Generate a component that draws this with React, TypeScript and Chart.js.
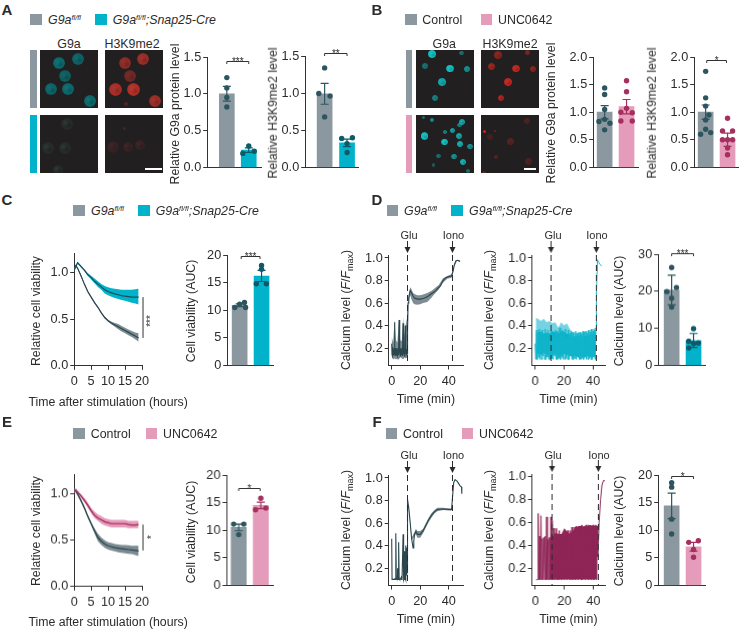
import React, { useEffect, useRef } from "react";
import { Chart, registerables } from "chart.js";

Chart.register(...registerables);

// ---------- colours ----------
const GRAY = "#8b989f";
const TEAL = "#00b3cb";
const PINK = "#e59bba";
const DARK = "#2d5560";
const DARK_TEAL = "#0f5a68";
const MAGENTA = "#a5305f";
const TRACE_MAGENTA = "#8f2657";
const INK = "#2b2b2b";
const FONT = '"Liberation Sans", Arial, sans-serif';

// ---------- bar + dot data ----------
const a1GrayVals = [1.22, 1.08, 0.95, 0.82];
const a1GrayJit = [0, 0, 0, 0];
const a1TealVals = [0.29, 0.19, 0.22];
const a1TealJit = [0, -0.27, 0.25];
const a1Means = [1.0, 0.235];
const a1Errs = [0.1, 0.03];

const a2GrayVals = [1.34, 0.995, 0.96, 0.68];
const a2GrayJit = [0, -0.26, 0.24, 0];
const a2TealVals = [0.39, 0.4, 0.32, 0.2];
const a2TealJit = [-0.24, 0.24, 0, 0];
const a2Means = [0.99, 0.33];
const a2Errs = [0.14, 0.05];

const b1CtrlVals = [1.44, 1.32, 1.05, 0.87, 0.83, 0.8, 0.68];
const b1CtrlJit = [0, 0, 0, 0, -0.26, 0.24, 0];
const b1UncVals = [1.57, 1.37, 1.07, 1.0, 0.99, 0.84, 0.84];
const b1UncJit = [0, 0, 0, -0.26, 0.26, -0.26, 0.26];
const b1Means = [1.0, 1.1];
const b1Errs = [0.12, 0.13];

const b2CtrlVals = [1.74, 1.26, 1.11, 0.95, 0.86, 0.6, 0.69, 0.63];
const b2CtrlJit = [0, 0, 0, 0.15, 0, -0.23, 0, 0.23];
const b2UncVals = [0.89, 0.66, 0.66, 0.5, 0.5, 0.5, 0.35, 0.23];
const b2UncJit = [0, -0.23, 0.23, 0, -0.23, 0.23, 0, 0];
const b2Means = [1.0, 0.5];
const b2Errs = [0.13, 0.12];

const c2GrayVals = [10.5, 11.1, 11.4, 10.5];
const c2GrayJit = [-0.22, 0, 0.22, 0.27];
const c2TealVals = [18.1, 17.4, 14.8, 14.8];
const c2TealJit = [0, 0, -0.24, 0.22];
const c2Means = [10.9, 16.2];
const c2Errs = [0.25, 1.0];

const d3GrayVals = [26.4, 19.9, 21, 18.1, 15.7];
const d3GrayJit = [0, -0.22, 0.22, 0, 0];
const d3TealVals = [9.9, 6.5, 6, 5.9, 4.7];
const d3TealJit = [0, -0.22, 0.22, 0, -0.22];
const d3Means = [20.3, 6.7];
const d3Errs = [4, 1.9];

const e2CtrlVals = [11.1, 11.1, 9.2];
const e2CtrlJit = [-0.23, 0.23, 0];
const e2UncVals = [15.8, 13.7, 14];
const e2UncJit = [0, -0.24, 0.23];
const e2Means = [10.5, 14.5];
const e2Errs = [0.6, 0.6];

const f3CtrlVals = [18.6, 17.8, 12, 9.3];
const f3CtrlJit = [0, 0, 0, 0];
const f3UncVals = [8.1, 7.8, 6.5, 5.1];
const f3UncJit = [0.22, -0.22, 0, 0];
const f3Means = [14.4, 7.0];
const f3Errs = [2.3, 0.8];

// ---------- viability curves ----------
const hours = [0, 0.5, 1, 2, 3, 4, 5, 6, 7, 8, 9, 10, 11, 12, 13, 14, 15, 16, 17, 18, 19];
const cTeal = [1.03, 1.07, 1.11, 1.07, 1.03, 0.98, 0.95, 0.91, 0.88, 0.85, 0.82, 0.8, 0.785, 0.775, 0.765, 0.755, 0.75, 0.745, 0.74, 0.74, 0.74];
const cTealHi = [1.04, 1.08, 1.12, 1.08, 1.04, 1.0, 0.97, 0.94, 0.91, 0.88, 0.86, 0.845, 0.835, 0.83, 0.825, 0.82, 0.82, 0.82, 0.82, 0.825, 0.83];
const cTealLo = [1.02, 1.06, 1.1, 1.06, 1.02, 0.97, 0.93, 0.89, 0.85, 0.82, 0.78, 0.76, 0.745, 0.73, 0.72, 0.71, 0.7, 0.69, 0.68, 0.67, 0.66];
const cGray = [1.05, 1.08, 1.05, 0.97, 0.88, 0.8, 0.74, 0.68, 0.63, 0.57, 0.52, 0.485, 0.46, 0.44, 0.42, 0.4, 0.38, 0.36, 0.34, 0.32, 0.3];
const cGrayHi = [1.06, 1.09, 1.06, 0.98, 0.89, 0.81, 0.75, 0.69, 0.64, 0.58, 0.53, 0.495, 0.475, 0.46, 0.45, 0.43, 0.41, 0.39, 0.375, 0.36, 0.35];
const cGrayLo = [1.04, 1.07, 1.04, 0.96, 0.87, 0.79, 0.73, 0.67, 0.62, 0.56, 0.51, 0.475, 0.445, 0.42, 0.395, 0.37, 0.35, 0.33, 0.31, 0.285, 0.26];

const ePink = [1.03, 1.04, 1.02, 0.98, 0.93, 0.88, 0.82, 0.77, 0.74, 0.72, 0.7, 0.69, 0.68, 0.68, 0.68, 0.68, 0.68, 0.67, 0.665, 0.665, 0.67];
const ePinkHi = [1.05, 1.06, 1.04, 1.0, 0.96, 0.91, 0.85, 0.81, 0.78, 0.76, 0.74, 0.73, 0.72, 0.72, 0.72, 0.72, 0.72, 0.71, 0.71, 0.71, 0.71];
const ePinkLo = [1.01, 1.02, 1.0, 0.96, 0.91, 0.85, 0.79, 0.74, 0.71, 0.68, 0.66, 0.65, 0.64, 0.64, 0.64, 0.64, 0.64, 0.63, 0.63, 0.63, 0.63];
const eGray = [1.05, 1.03, 1.0, 0.93, 0.85, 0.76, 0.68, 0.6, 0.53, 0.49, 0.46, 0.44, 0.43, 0.42, 0.415, 0.41, 0.405, 0.4, 0.395, 0.39, 0.385];
const eGrayHi = [1.07, 1.05, 1.02, 0.95, 0.87, 0.78, 0.7, 0.63, 0.57, 0.53, 0.5, 0.48, 0.47, 0.46, 0.455, 0.45, 0.45, 0.445, 0.44, 0.44, 0.44];
const eGrayLo = [1.03, 1.01, 0.98, 0.91, 0.83, 0.74, 0.66, 0.57, 0.49, 0.45, 0.42, 0.4, 0.39, 0.38, 0.37, 0.365, 0.36, 0.355, 0.35, 0.34, 0.33];

// ---------- calcium traces ----------
const d1Early = [0.24, 0.14, 0.21, 0.13, 0.19, 0.14, 0.2, 0.14, 0.43, 0.15, 0.2, 0.13, 0.19, 0.14, 0.2, 0.15, 0.18, 0.13, 0.2, 0.14, 0.21, 0.45, 0.16, 0.19, 0.13, 0.2, 0.15, 0.19, 0.14, 0.2, 0.13, 0.18, 0.42, 0.15, 0.21, 0.14, 0.2, 0.13, 0.4, 0.15, 0.2, 0.14, 0.19, 0.15, 0.2];
const d1LateT = [11.25, 11.5, 12, 13, 14, 15, 16, 18, 20, 22, 24, 26, 28, 30, 32, 34, 36, 38, 40, 42, 43, 44, 45, 46, 47, 48];
const d1Late = [0.35, 0.6, 0.65, 0.71, 0.69, 0.66, 0.645, 0.635, 0.635, 0.64, 0.65, 0.665, 0.685, 0.7, 0.725, 0.75, 0.8, 0.825, 0.835, 0.84, 0.88, 0.94, 0.975, 0.98, 0.975, 0.97];
const d1BandT = [0, 1, 2, 3, 4, 5, 6, 7, 8, 9, 10, 11, 11.5, 12, 13, 14, 15, 16, 18, 20, 22, 25, 28, 30, 33, 36, 39, 42, 44, 46, 48];
const d1BandHi = [0.3, 0.25, 0.45, 0.27, 0.25, 0.46, 0.27, 0.26, 0.47, 0.3, 0.42, 0.48, 0.65, 0.68, 0.74, 0.72, 0.69, 0.68, 0.67, 0.67, 0.675, 0.69, 0.71, 0.73, 0.76, 0.82, 0.84, 0.855, 0.95, 0.985, 0.975];
const d1BandLo = [0.12, 0.1, 0.11, 0.1, 0.11, 0.1, 0.12, 0.11, 0.1, 0.12, 0.11, 0.12, 0.58, 0.62, 0.67, 0.63, 0.6, 0.59, 0.585, 0.59, 0.6, 0.61, 0.65, 0.68, 0.72, 0.78, 0.815, 0.825, 0.93, 0.975, 0.965];

const d2Early = [
  0.24, 0.1, 0.36, 0.1, 0.34, 0.12, 0.37, 0.1, 0.33, 0.1,
  0.36, 0.13, 0.3, 0.1, 0.37, 0.1, 0.33, 0.12, 0.36, 0.1,
  0.28, 0.1, 0.37, 0.11, 0.35, 0.1, 0.3, 0.13, 0.36, 0.1,
  0.35, 0.1, 0.26, 0.11, 0.38, 0.1, 0.32, 0.12, 0.36, 0.1,
  0.34, 0.1, 0.37, 0.11, 0.29, 0.1, 0.36, 0.1, 0.33, 0.13,
  0.35, 0.1, 0.34, 0.1, 0.3, 0.11, 0.35, 0.1, 0.33, 0.12,
  0.34, 0.1, 0.34, 0.1, 0.32, 0.11, 0.35, 0.1, 0.34, 0.12,
  0.35, 0.1, 0.33, 0.1, 0.36, 0.11, 0.34, 0.1, 0.37, 0.1,
  0.35, 0.12, 0.36, 0.1, 0.38,
];
const d2LateT = [42.2, 42.5, 42.8, 43, 44, 45, 46];
const d2Late = [0.5, 0.7, 0.88, 0.985, 0.96, 0.94, 0.93];
const d2CoreT = [0.5, 2, 4, 6, 8, 10, 12, 14, 16, 18, 20, 22, 24, 26, 28, 30, 32, 34, 36, 38, 40, 42];
const d2CoreHi = [0.33, 0.34, 0.35, 0.33, 0.34, 0.33, 0.35, 0.34, 0.33, 0.35, 0.35, 0.33, 0.32, 0.3, 0.31, 0.31, 0.3, 0.31, 0.31, 0.32, 0.33, 0.35];
const d2CoreLo = [0.17, 0.15, 0.14, 0.16, 0.14, 0.15, 0.13, 0.15, 0.14, 0.13, 0.15, 0.14, 0.13, 0.12, 0.13, 0.12, 0.13, 0.12, 0.13, 0.12, 0.13, 0.12];
const d2LightHi = [0.47, 0.46, 0.44, 0.46, 0.43, 0.44, 0.42, 0.43, 0.38, 0.43, 0.4, 0.42, 0.37, 0.34, 0.33, 0.33, 0.33, 0.34, 0.35, 0.36, 0.37, 0.38];

const f1Early = [0.46, 0.1, 0.1, 0.1, 0.1, 0.1, 0.1, 0.1, 0.11, 0.1, 0.1, 0.1, 0.51, 0.12, 0.11, 0.1, 0.2, 0.1, 0.1, 0.1, 0.43, 0.11, 0.1, 0.1, 0.1, 0.1, 0.1, 0.12, 0.1, 0.1, 0.1, 0.1, 0.5, 0.11, 0.1, 0.12, 0.35, 0.11, 0.12, 0.1, 0.4, 0.14, 0.38, 0.16, 0.4];
const f1LateT = [11.2, 12, 13, 14, 15, 15.5, 16, 17, 18, 20, 22, 24, 26, 28, 30, 32, 36, 40, 42, 42.5, 43.5, 44.5, 46, 47, 48, 49, 49.2];
const f1Late = [0.81, 0.73, 0.6, 0.46, 0.38, 0.44, 0.5, 0.525, 0.5, 0.5, 0.53, 0.58, 0.63, 0.67, 0.7, 0.72, 0.725, 0.72, 0.72, 0.8, 0.96, 0.985, 0.97, 0.95, 0.93, 0.92, 0.86];
const f1BandT = [12, 14, 16, 17, 18, 20, 22, 24, 26, 28, 30, 32, 36, 42];
const f1BandHi = [0.74, 0.47, 0.52, 0.55, 0.53, 0.53, 0.55, 0.6, 0.65, 0.69, 0.715, 0.735, 0.735, 0.73];
const f1BandLo = [0.72, 0.45, 0.48, 0.5, 0.47, 0.47, 0.51, 0.56, 0.61, 0.65, 0.685, 0.705, 0.715, 0.71];

const f2Early = [
  0.1, 0.1, 0.1, 0.68, 0.1, 0.48, 0.1, 0.66, 0.1, 0.46,
  0.1, 0.47, 0.1, 0.48, 0.1, 0.65, 0.1, 0.45, 0.1, 0.47,
  0.1, 0.65, 0.1, 0.62, 0.11, 0.55, 0.1, 0.46, 0.11, 0.55,
  0.1, 0.5, 0.1, 0.53, 0.11, 0.45, 0.1, 0.5, 0.12, 0.49,
  0.1, 0.48, 0.11, 0.51, 0.1, 0.53, 0.11, 0.45, 0.1, 0.53,
  0.11, 0.56, 0.1, 0.47, 0.12, 0.56, 0.1, 0.57, 0.11, 0.5,
  0.1, 0.57, 0.11, 0.55, 0.1, 0.58, 0.1, 0.46, 0.12, 0.57,
  0.1, 0.58, 0.11, 0.5, 0.1, 0.58, 0.11, 0.57, 0.1, 0.55,
  0.12, 0.58, 0.1, 0.5, 0.11, 0.58, 0.1, 0.57,
];
const f2LateT = [43, 43.6, 44, 45, 46, 47, 48];
const f2Late = [0.3, 0.45, 0.6, 0.8, 0.93, 0.97, 0.965];
const f2CoreT = [9.5, 10, 11, 12, 14, 16, 18, 20, 22, 24, 26, 28, 30, 32, 34, 36, 38, 40, 42, 42.8];
const f2CoreHi = [0.45, 0.46, 0.5, 0.48, 0.51, 0.5, 0.5, 0.55, 0.52, 0.5, 0.53, 0.56, 0.57, 0.57, 0.565, 0.57, 0.58, 0.57, 0.57, 0.58];
const f2CoreLo = [0.11, 0.11, 0.1, 0.1, 0.1, 0.1, 0.1, 0.1, 0.1, 0.1, 0.1, 0.1, 0.1, 0.1, 0.1, 0.1, 0.1, 0.1, 0.1, 0.1];

// ---------- ticks ----------
const ticks15 = [0, 0.5, 1.0, 1.5];
const ticks20 = [0, 0.5, 1.0, 1.5, 2.0];
const ticksAuc20 = [0, 5, 10, 15, 20];
const ticksAuc30 = [0, 10, 20, 30];
const ticksViab = [0, 0.5, 1.0];
const ticksHours = [0, 5, 10, 15, 20];
const ticksCa = [0.2, 0.4, 0.6, 0.8, 1.0];
const ticksMin = [0, 20, 40];

// ---------- helpers ----------
const pts = (xs: number[], ys: number[]) => ys.map((y, i) => ({ x: xs[i], y }));
const jit = (slot: number, offs: number[], ys: number[]) => ys.map((y, i) => ({ x: slot + offs[i], y }));
const sampled = (step: number, ys: number[], start = 0) => ys.map((y, i) => ({ x: start + i * step, y }));

type Err = { slot: number; mean: number; err: number; color: string };
type Marks = {
  errs?: Err[];
  bracket?: { from: number; to: number; y: number; stars: string };
  side?: { x: number; y0: number; y1: number };
  events?: number[];
};

function marksPlugin(m: Marks) {
  return {
    id: "marks",
    afterDatasetsDraw(chart: any) {
      const { ctx, scales, chartArea } = chart;
      const x = scales.x;
      const y = scales.y;
      ctx.save();
      (m.errs || []).forEach((e) => {
        const cx = x.getPixelForValue(e.slot);
        const hi = y.getPixelForValue(e.mean + e.err);
        const lo = y.getPixelForValue(e.mean - e.err);
        ctx.strokeStyle = e.color;
        ctx.lineWidth = 1.2;
        ctx.beginPath();
        ctx.moveTo(cx, hi);
        ctx.lineTo(cx, lo);
        ctx.moveTo(cx - 4, hi);
        ctx.lineTo(cx + 4, hi);
        ctx.moveTo(cx - 4, lo);
        ctx.lineTo(cx + 4, lo);
        ctx.stroke();
      });
      if (m.bracket) {
        const b = m.bracket;
        const x0 = x.getPixelForValue(b.from);
        const x1 = x.getPixelForValue(b.to);
        const py = Math.round(y.getPixelForValue(b.y)) + 0.5;
        ctx.strokeStyle = "#333";
        ctx.lineWidth = 1;
        ctx.beginPath();
        ctx.moveTo(x0, py + 2.5);
        ctx.lineTo(x0, py);
        ctx.lineTo(x1, py);
        ctx.lineTo(x1, py + 2.5);
        ctx.stroke();
        ctx.fillStyle = INK;
        ctx.font = `10px ${FONT}`;
        ctx.textAlign = "center";
        ctx.textBaseline = "alphabetic";
        ctx.fillText(b.stars, (x0 + x1) / 2, py + 3);
      }
      if (m.side) {
        const px = x.getPixelForValue(m.side.x);
        ctx.strokeStyle = "#333";
        ctx.lineWidth = 1;
        ctx.beginPath();
        ctx.moveTo(px, y.getPixelForValue(m.side.y0));
        ctx.lineTo(px, y.getPixelForValue(m.side.y1));
        ctx.stroke();
      }
      (m.events || []).forEach((t) => {
        const px = Math.round(x.getPixelForValue(t)) + 0.5;
        ctx.strokeStyle = "#2a2a2a";
        ctx.lineWidth = 1;
        ctx.setLineDash([6, 4]);
        ctx.beginPath();
        ctx.moveTo(px, chartArea.top);
        ctx.lineTo(px, chartArea.bottom);
        ctx.stroke();
        ctx.setLineDash([]);
        ctx.beginPath();
        ctx.moveTo(px, chartArea.top - 14);
        ctx.lineTo(px, chartArea.top - 4);
        ctx.stroke();
        ctx.fillStyle = "#2a2a2a";
        ctx.beginPath();
        ctx.moveTo(px - 3, chartArea.top - 8);
        ctx.lineTo(px + 3, chartArea.top - 8);
        ctx.lineTo(px, chartArea.top - 2);
        ctx.closePath();
        ctx.fill();
      });
      ctx.restore();
    },
  };
}

type Box = { l: number; r: number; t: number; b: number };
type Label = { x: number; y: number; text: string; rotate: number };
type Spec = { left: number; top: number; w: number; h: number; config: any; labels: Label[] };

const TITLE_LH = 12 * 1.2;
const TOP_PAD = 18;
const RIGHT_PAD = 14;
const BOTTOM_PAD = 8;

function makeSpec(
  box: Box,
  titleX: number,
  titleY: number | null,
  yTicks: number[],
  yDec: number,
  yMin: number,
  yMax: number,
  xMin: number,
  xMax: number,
  xTicks: number[] | null,
  yTitle: string,
  xTitle: string,
  type: string,
  datasets: any[],
  marks: Marks
): Spec {
  const yW = box.l - titleX + TITLE_LH / 2;
  const xH = titleY == null ? 1 : titleY - box.b + TITLE_LH / 2;
  const left = box.l - yW;
  const top = box.t - TOP_PAD;
  const w = box.r - box.l + yW + RIGHT_PAD;
  const h = box.b - box.t + TOP_PAD + xH + BOTTOM_PAD;
  const tickFont = { family: FONT, size: 12.7 };
  const labels: Label[] = [];
  if (yTitle) labels.push({ x: titleX, y: (box.t + box.b) / 2 + 1, text: yTitle, rotate: -90 });
  if (xTitle && titleY != null) labels.push({ x: (box.l + box.r) / 2, y: titleY, text: xTitle, rotate: 0 });
  return {
    left,
    top,
    w,
    h,
    labels,
    config: {
      type,
      data: { datasets },
      plugins: [marksPlugin(marks)],
      options: {
        animation: false,
        responsive: false,
        maintainAspectRatio: false,
        layout: { padding: { top: TOP_PAD, right: RIGHT_PAD, bottom: BOTTOM_PAD, left: 0 } },
        plugins: { legend: { display: false }, tooltip: { enabled: false }, title: { display: false } },
        scales: {
          x: {
            type: "linear",
            min: xMin,
            max: xMax,
            afterFit: (s: any) => {
              s.height = xH;
            },
            afterBuildTicks: (s: any) => {
              s.ticks = (xTicks || []).map((value) => ({ value }));
            },
            grid: { display: !!xTicks, drawOnChartArea: false, drawTicks: true, tickLength: 4, color: "#333" },
            border: { display: true, color: "#333", width: 1 },
            ticks: {
              display: !!xTicks,
              font: tickFont,
              color: INK,
              padding: 4,
              autoSkip: false,
              maxRotation: 0,
              callback: (v: number) => String(v),
            },
          },
          y: {
            type: "linear",
            min: yMin,
            max: yMax,
            afterFit: (s: any) => {
              s.width = yW;
            },
            afterBuildTicks: (s: any) => {
              s.ticks = yTicks.map((value) => ({ value }));
            },
            grid: { drawOnChartArea: false, drawTicks: true, tickLength: 4, color: "#333" },
            border: { display: true, color: "#333", width: 1 },
            ticks: {
              font: tickFont,
              color: INK,
              padding: 2,
              autoSkip: false,
              callback: (v: number) => v.toFixed(yDec),
            },
          },
        },
      },
    },
  };
}

function barSpec(
  box: Box,
  c0: number,
  c1: number,
  titleX: number,
  yTicks: number[],
  yDec: number,
  yTitle: string,
  means: number[],
  errs: number[],
  v0: number[],
  j0: number[],
  v1: number[],
  j1: number[],
  colors: string[],
  dotColors: string[],
  bracket: Marks["bracket"]
): Spec {
  const sep = c1 - c0;
  const dot = (data: any[], c: string) => ({
    type: "scatter",
    data,
    backgroundColor: c,
    borderColor: c,
    pointRadius: 2.7,
    pointBorderWidth: 0,
    showLine: false,
  });
  return makeSpec(
    box,
    titleX,
    null,
    yTicks,
    yDec,
    0,
    yTicks[yTicks.length - 1],
    (box.l - c0) / sep,
    (box.r - c0) / sep,
    null,
    yTitle,
    "",
    "bar",
    [
      dot(jit(0, j0, v0), dotColors[0]),
      dot(jit(1, j1, v1), dotColors[1]),
      {
        type: "bar",
        data: pts([0, 1], means),
        backgroundColor: colors,
        barThickness: 15,
      },
    ],
    {
      errs: [
        { slot: 0, mean: means[0], err: errs[0], color: dotColors[0] },
        { slot: 1, mean: means[1], err: errs[1], color: dotColors[1] },
      ],
      bracket,
    }
  );
}

function viabSpec(box: Box, sets: any[], side: Marks["side"]): Spec {
  return makeSpec(box, 36, box.b + 36, ticksViab, 1, 0, 1.215, 0, 20, ticksHours, "Relative cell viability", "Time after stimulation (hours)", "line", sets, { side });
}

const lineDs = (data: any[], color: string, width = 1.2, extra: any = {}) => ({
  data,
  borderColor: color,
  borderWidth: width,
  pointRadius: 0,
  tension: 0,
  fill: false,
  ...extra,
});
const bandPair = (xs: number[], hi: number[], lo: number[], color: string) => [
  { data: pts(xs, hi), borderWidth: 0, borderColor: color, backgroundColor: color, pointRadius: 0, fill: "+1" },
  { data: pts(xs, lo), borderWidth: 0, borderColor: color, pointRadius: 0, fill: false },
];

function caSpec(box: Box, x0px: number, x40px: number, titleY: number, sets: any[], events: number[]): Spec {
  const perMin = (x40px - x0px) / 40;
  const y02 = box.b - 17.4;
  const perUnit = (y02 - (box.t + 3)) / 0.8;
  const yMin = 0.2 - (box.b - y02) / perUnit;
  const yMax = 1.0 + 3 / perUnit;
  return makeSpec(box, box.l - 42.5, titleY, ticksCa, 1, yMin, yMax, (box.l - x0px) / perMin, (box.r - x0px) / perMin, ticksMin, "", "Time (min)", "line", sets, { events });
}

const specs: Spec[] = [
  // A
  barSpec({ l: 207, r: 261, t: 57, b: 168 }, 226.7, 248.7, 175, ticks15, 1, "Relative G9a protein level", a1Means, a1Errs, a1GrayVals, a1GrayJit, a1TealVals, a1TealJit, [GRAY, TEAL], [DARK, DARK_TEAL], { from: 0, to: 1, y: 1.44, stars: "***" }),
  barSpec({ l: 305, r: 358, t: 56, b: 168 }, 324.5, 347, 273, ticks15, 1, "Relative H3K9me2 level", a2Means, a2Errs, a2GrayVals, a2GrayJit, a2TealVals, a2TealJit, [GRAY, TEAL], [DARK, DARK_TEAL], { from: 0, to: 1, y: 1.535, stars: "**" }),
  // B
  barSpec({ l: 593, r: 638, t: 56.7, b: 167.7 }, 604.5, 626.5, 551, ticks20, 1, "Relative G9a protein level", b1Means, b1Errs, b1CtrlVals, b1CtrlJit, b1UncVals, b1UncJit, [GRAY, PINK], [DARK, MAGENTA], undefined),
  barSpec({ l: 694, r: 738, t: 56.7, b: 167.7 }, 705.5, 727.5, 652, ticks20, 1, "Relative H3K9me2 level", b2Means, b2Errs, b2CtrlVals, b2CtrlJit, b2UncVals, b2UncJit, [GRAY, PINK], [DARK, MAGENTA], { from: 0.05, to: 0.95, y: 1.95, stars: "*" }),
  // C
  viabSpec(
    { l: 74, r: 142.3, t: 253, b: 366 },
    [
      lineDs(pts(hours, cTeal), "#1d4c58"),
      lineDs(pts(hours, cGray), "#2a474e"),
      ...bandPair(hours, cTealHi, cTealLo, TEAL),
      ...bandPair(hours, cGrayHi, cGrayLo, "#7d8b92"),
    ],
    { x: 20.3, y0: 0.74, y1: 0.3 }
  ),
  barSpec({ l: 227, r: 273, t: 254.7, b: 366 }, 239.5, 261.5, 191, ticksAuc20, 0, "Cell viability (AUC)", c2Means, c2Errs, c2GrayVals, c2GrayJit, c2TealVals, c2TealJit, [GRAY, TEAL], [DARK, DARK_TEAL], { from: 0.07, to: 0.93, y: 19.9, stars: "***" }),
  // D
  caSpec(
    { l: 388.7, r: 463, t: 255, b: 365.7 },
    391.7,
    448.7,
    399,
    [
      lineDs([...sampled(0.25, d1Early), ...pts(d1LateT, d1Late)], "#2a474e", 1.1),
      ...bandPair(d1BandT, d1BandHi, d1BandLo, "#7f8c93"),
    ],
    [11, 42]
  ),
  caSpec(
    { l: 531.7, r: 605, t: 255, b: 365.7 },
    534.7,
    593,
    399,
    [
      lineDs([...sampled(0.5, d2Early), ...pts(d2LateT, d2Late)], "#12b5cb", 1),
      ...bandPair(d2CoreT, d2CoreHi, d2CoreLo, TEAL),
      ...bandPair(d2CoreT, d2LightHi, d2CoreHi, "#74d3e2"),
    ],
    [11, 42]
  ),
  barSpec({ l: 658, r: 705, t: 254.3, b: 366 }, 671.5, 693.5, 619, ticksAuc30, 0, "Calcium level (AUC)", d3Means, d3Errs, d3GrayVals, d3GrayJit, d3TealVals, d3TealJit, [GRAY, TEAL], [DARK, DARK_TEAL], { from: 0, to: 1, y: 30.4, stars: "***" }),
  // E
  viabSpec(
    { l: 74, r: 142.3, t: 473.5, b: 586.3 },
    [
      lineDs(pts(hours, ePink), "#a0285a"),
      lineDs(pts(hours, eGray), "#2a474e"),
      ...bandPair(hours, ePinkHi, ePinkLo, PINK),
      ...bandPair(hours, eGrayHi, eGrayLo, "#7d8b92"),
    ],
    { x: 20.3, y0: 0.67, y1: 0.39 }
  ),
  barSpec({ l: 226, r: 272.7, t: 475, b: 586.3 }, 238.2, 260.5, 191, ticksAuc20, 0, "Cell viability (AUC)", e2Means, e2Errs, e2CtrlVals, e2CtrlJit, e2UncVals, e2UncJit, [GRAY, PINK], [DARK, MAGENTA], { from: 0, to: 0.97, y: 17.6, stars: "*" }),
  // F
  caSpec(
    { l: 388.7, r: 463, t: 475, b: 585.7 },
    391.7,
    448.7,
    619,
    [
      lineDs([...sampled(0.25, f1Early), ...pts(f1LateT, f1Late)], "#2a474e", 1.1),
      ...bandPair(f1BandT, f1BandHi, f1BandLo, "#7f8c93"),
    ],
    [11, 42]
  ),
  caSpec(
    { l: 531.7, r: 605, t: 473.5, b: 585.7 },
    535,
    593.3,
    619,
    [
      lineDs([...sampled(0.485, f2Early, 0.5), ...pts(f2LateT, f2Late)], TRACE_MAGENTA, 1),
      ...bandPair(f2CoreT, f2CoreHi, f2CoreLo, TRACE_MAGENTA),
    ],
    [11, 43]
  ),
  barSpec({ l: 658, r: 705, t: 474.7, b: 586 }, 671.5, 693.5, 619, ticksAuc20, 0, "Calcium level (AUC)", f3Means, f3Errs, f3CtrlVals, f3CtrlJit, f3UncVals, f3UncJit, [GRAY, PINK], [DARK, MAGENTA], { from: 0, to: 1, y: 19.9, stars: "*" }),
];

// ---------- DOM text and micrographs ----------
const Txt = ({ x, y, children, size = 12.3, rotate = 0, style = {} }: any) => (
  <div
    style={{
      position: "absolute",
      left: x,
      top: y,
      transform: `translate(-50%,-50%) rotate(${rotate}deg)`,
      whiteSpace: "nowrap",
      fontFamily: FONT,
      fontSize: size,
      color: INK,
      lineHeight: 1,
      ...style,
    }}
  >
    {children}
  </div>
);
const Left = ({ x, y, children }: any) => (
  <div style={{ position: "absolute", left: x, top: y, transform: "translateY(-50%)", whiteSpace: "nowrap", fontFamily: FONT, fontSize: 12.4, color: INK, lineHeight: 1 }}>
    {children}
  </div>
);
const Swatch = ({ x, y, c }: any) => <div style={{ position: "absolute", left: x, top: y, width: 11.5, height: 11, background: c }} />;
const Fl = () => (
  <i>
    G9a<sup style={{ fontSize: 7.5, lineHeight: 0, verticalAlign: 4 }}>fl/fl</sup>
  </i>
);
const FlCre = () => (
  <i>
    G9a<sup style={{ fontSize: 7.5, lineHeight: 0, verticalAlign: 4 }}>fl/fl</sup>;Snap25-Cre
  </i>
);
const FMax = () => (
  <>
    Calcium level (<i>F</i>/<i>F</i>
    <sub style={{ fontSize: 9, lineHeight: 0, verticalAlign: -3 }}>max</sub>)
  </>
);

type Cell = [number, number, number, number?];
const aTopCells: Cell[] = [[19, 12.7, 6], [37.7, 9.3, 6, 0.9], [25, 26, 6, 0.85], [11, 39, 6, 0.95], [27.7, 39, 6], [50, 50.7, 6]];
const aTopRed: Cell[] = [[19.7, 12.7, 6, 0.75], [38, 9.3, 6, 0.85], [25.3, 26, 6, 0.55], [10.7, 39, 6.5, 0.95], [28, 39, 6.5], [50.3, 50.7, 6, 0.85], [21, 54, 2, 0.35]];
const aBotCells: Cell[] = [[26.7, 9, 6], [8.3, 33, 6], [25, 33, 6], [18, 55, 5]];
const aBotRed: Cell[] = [[19.7, 14, 1.5], [8, 32.3, 6, 0.6], [23, 32.3, 5, 0.6], [34.7, 30.7, 5, 0.6]];
const bTopCells: Cell[] = [[16.7, 4.3, 4, 1], [46, 2.7, 2.2, 0.5], [9.3, 16, 3, 0.5], [34.3, 18.7, 3.8, 1], [51, 19, 3, 0.7], [26.3, 32, 3.8, 0.85], [19.7, 48.3, 3, 0.6]];
const bTopRed: Cell[] = [[16.7, 5, 3.8, 0.6], [46.7, 2.7, 2.5, 0.55], [10, 16.7, 3.5, 0.7], [34.7, 18.7, 3.8, 0.95], [51.7, 19, 3, 0.6], [27, 32, 4, 0.95], [19.7, 48.3, 3.2, 0.8]];
const bBotCells: Cell[] = [[8.7, 21.3, 3.8, 1], [7.7, 3.3, 1.5, 0.5], [16, 5, 2, 0.7], [46, 7.3, 3, 0.85], [43.7, 10.7, 2.2, 0.6], [36.7, 16.3, 2.6, 0.8], [29.3, 17.3, 1.8, 0.6], [43.7, 21.7, 3, 0.85], [29, 27.3, 3.2, 1], [44.3, 29.7, 3, 0.9], [54.3, 32.3, 2.6, 0.7], [22.7, 41.7, 2.2, 0.5], [38.3, 42.3, 2.6, 0.7], [47, 47.3, 3, 0.9], [17.7, 50.7, 1.8, 0.4], [52.7, 56.3, 2, 0.5]];
const bBotRed: Cell[] = [[3.7, 17.3, 1.5, 1], [14, 16, 1, 0.5], [9, 22, 3, 0.2], [29.3, 27.3, 3.5, 0.3], [47.7, 47.3, 3.5, 0.25], [46, 6, 3, 0.25], [15, 42, 2, 0.3], [3, 58, 2, 0.4]];

const Micro = ({ x, y, cells, color, scaleBar }: any) => (
  <div style={{ position: "absolute", left: x, top: y, width: 58, height: 58, background: "#221f20", overflow: "hidden" }}>
    {cells.map(([cx, cy, r, a]: Cell, i: number) => (
      <div
        key={i}
        style={{
          position: "absolute",
          left: cx - r,
          top: cy - r,
          width: r * 2,
          height: r * 2,
          borderRadius: "50%",
          opacity: a ?? 1,
          background: `radial-gradient(circle at 35% 40%, rgba(255,255,255,0.06) 0, transparent 35%), radial-gradient(circle at 65% 62%, rgba(0,0,0,0.18) 0, transparent 32%), radial-gradient(circle, ${color} 0%, ${color} 62%, transparent 92%)`,
        }}
      />
    ))}
    {scaleBar ? <div style={{ position: "absolute", left: scaleBar[0], top: 53, width: scaleBar[1], height: 2, background: "#fff" }} /> : null}
  </div>
);
const Strip = ({ x, y, c }: any) => <div style={{ position: "absolute", left: x, top: y, width: 6.7, height: 58, background: c }} />;

export default function App() {
  const refs = useRef<(HTMLCanvasElement | null)[]>([]);
  useEffect(() => {
    const charts = specs.map((s, i) => new Chart(refs.current[i] as HTMLCanvasElement, s.config));
    return () => charts.forEach((c) => c.destroy());
  }, []);
  const bold = { fontWeight: 700 };
  return (
    <div style={{ position: "absolute", left: 0, top: 0, width: 740, height: 630, background: "#fff", overflow: "hidden" }}>
      {/* micrographs */}
      <Strip x={30} y={50} c={GRAY} />
      <Strip x={30} y={114.5} c={TEAL} />
      <Micro x={40} y={50} cells={aTopCells} color="#0a686b" />
      <Micro x={105} y={50} cells={aTopRed} color="#ad2f28" />
      <Micro x={40} y={114.5} cells={aBotCells} color="#252b2b" />
      <Micro x={105} y={114.5} cells={aBotRed} color="#452324" scaleBar={[40, 16.5]} />
      <Strip x={405.7} y={50} c={GRAY} />
      <Strip x={405.7} y={114.5} c={PINK} />
      <Micro x={415.7} y={50} cells={bTopCells} color="#10b9bb" />
      <Micro x={481.2} y={50} cells={bTopRed} color="#c4261d" />
      <Micro x={415.7} y={114.5} cells={bBotCells} color="#10b9bb" />
      <Micro x={481.2} y={114.5} cells={bBotRed} color="#c8281f" scaleBar={[42.6, 12.4]} />

      {specs.map((s, i) => (
        <canvas
          key={i}
          ref={(el) => {
            refs.current[i] = el;
          }}
          width={s.w}
          height={s.h}
          style={{ position: "absolute", left: s.left, top: s.top, width: s.w, height: s.h }}
        />
      ))}

      {/* axis titles */}
      {specs.flatMap((s, i) =>
        s.labels.map((l, j) => (
          <Txt key={`${i}-${j}`} x={l.x} y={l.y} rotate={l.rotate}>
            {l.text}
          </Txt>
        ))
      )}

      {/* panel letters */}
      <Txt x={7} y={9} size={15} style={bold}>A</Txt>
      <Txt x={377} y={9} size={15} style={bold}>B</Txt>
      <Txt x={7} y={199} size={15} style={bold}>C</Txt>
      <Txt x={377} y={199} size={15} style={bold}>D</Txt>
      <Txt x={7} y={421} size={15} style={bold}>E</Txt>
      <Txt x={377} y={421} size={15} style={bold}>F</Txt>

      {/* legends */}
      <Swatch x={30} y={14} c={GRAY} />
      <Left x={48} y={20}><Fl /></Left>
      <Swatch x={95} y={14} c={TEAL} />
      <Left x={112.7} y={20}><FlCre /></Left>
      <Swatch x={405} y={14} c={GRAY} />
      <Left x={422.3} y={20}>Control</Left>
      <Swatch x={480.7} y={14} c={PINK} />
      <Left x={498} y={20}>UNC0642</Left>

      <Swatch x={73} y={205} c={GRAY} />
      <Left x={91} y={211}><Fl /></Left>
      <Swatch x={138} y={205} c={TEAL} />
      <Left x={155.7} y={211}><FlCre /></Left>
      <Swatch x={386.7} y={205} c={GRAY} />
      <Left x={404} y={211}><Fl /></Left>
      <Swatch x={451} y={205} c={TEAL} />
      <Left x={469} y={211}><FlCre /></Left>

      <Swatch x={73} y={427.5} c={GRAY} />
      <Left x={90.7} y={433.5}>Control</Left>
      <Swatch x={145.7} y={427.5} c={PINK} />
      <Left x={163} y={433.5}>UNC0642</Left>
      <Swatch x={385.7} y={427.5} c={GRAY} />
      <Left x={403} y={433.5}>Control</Left>
      <Swatch x={461.7} y={427.5} c={PINK} />
      <Left x={479} y={433.5}>UNC0642</Left>

      {/* image headers */}
      <Txt x={69} y={44} size={12.4}>G9a</Txt>
      <Txt x={132} y={44} size={12.4}>H3K9me2</Txt>
      <Txt x={444.3} y={44} size={12.4}>G9a</Txt>
      <Txt x={510} y={44} size={12.4}>H3K9me2</Txt>

      {/* calcium axis titles */}
      <Txt x={346} y={310} rotate={-90}><FMax /></Txt>
      <Txt x={489} y={310} rotate={-90}><FMax /></Txt>
      <Txt x={346} y={530} rotate={-90}><FMax /></Txt>
      <Txt x={489} y={530} rotate={-90}><FMax /></Txt>

      {/* event labels */}
      <Txt x={409} y={234.5} size={11}>Glu</Txt>
      <Txt x={453.5} y={234.5} size={11}>Iono</Txt>
      <Txt x={553} y={234.5} size={11}>Glu</Txt>
      <Txt x={597} y={234.5} size={11}>Iono</Txt>
      <Txt x={409} y={454.5} size={11}>Glu</Txt>
      <Txt x={453.5} y={454.5} size={11}>Iono</Txt>
      <Txt x={553} y={454.5} size={11}>Glu</Txt>
      <Txt x={599} y={454.5} size={11}>Iono</Txt>

      {/* side significance */}
      <Txt x={151} y={321} size={10} rotate={-90}>***</Txt>
      <Txt x={152} y={537} size={10} rotate={-90}>*</Txt>
    </div>
  );
}
